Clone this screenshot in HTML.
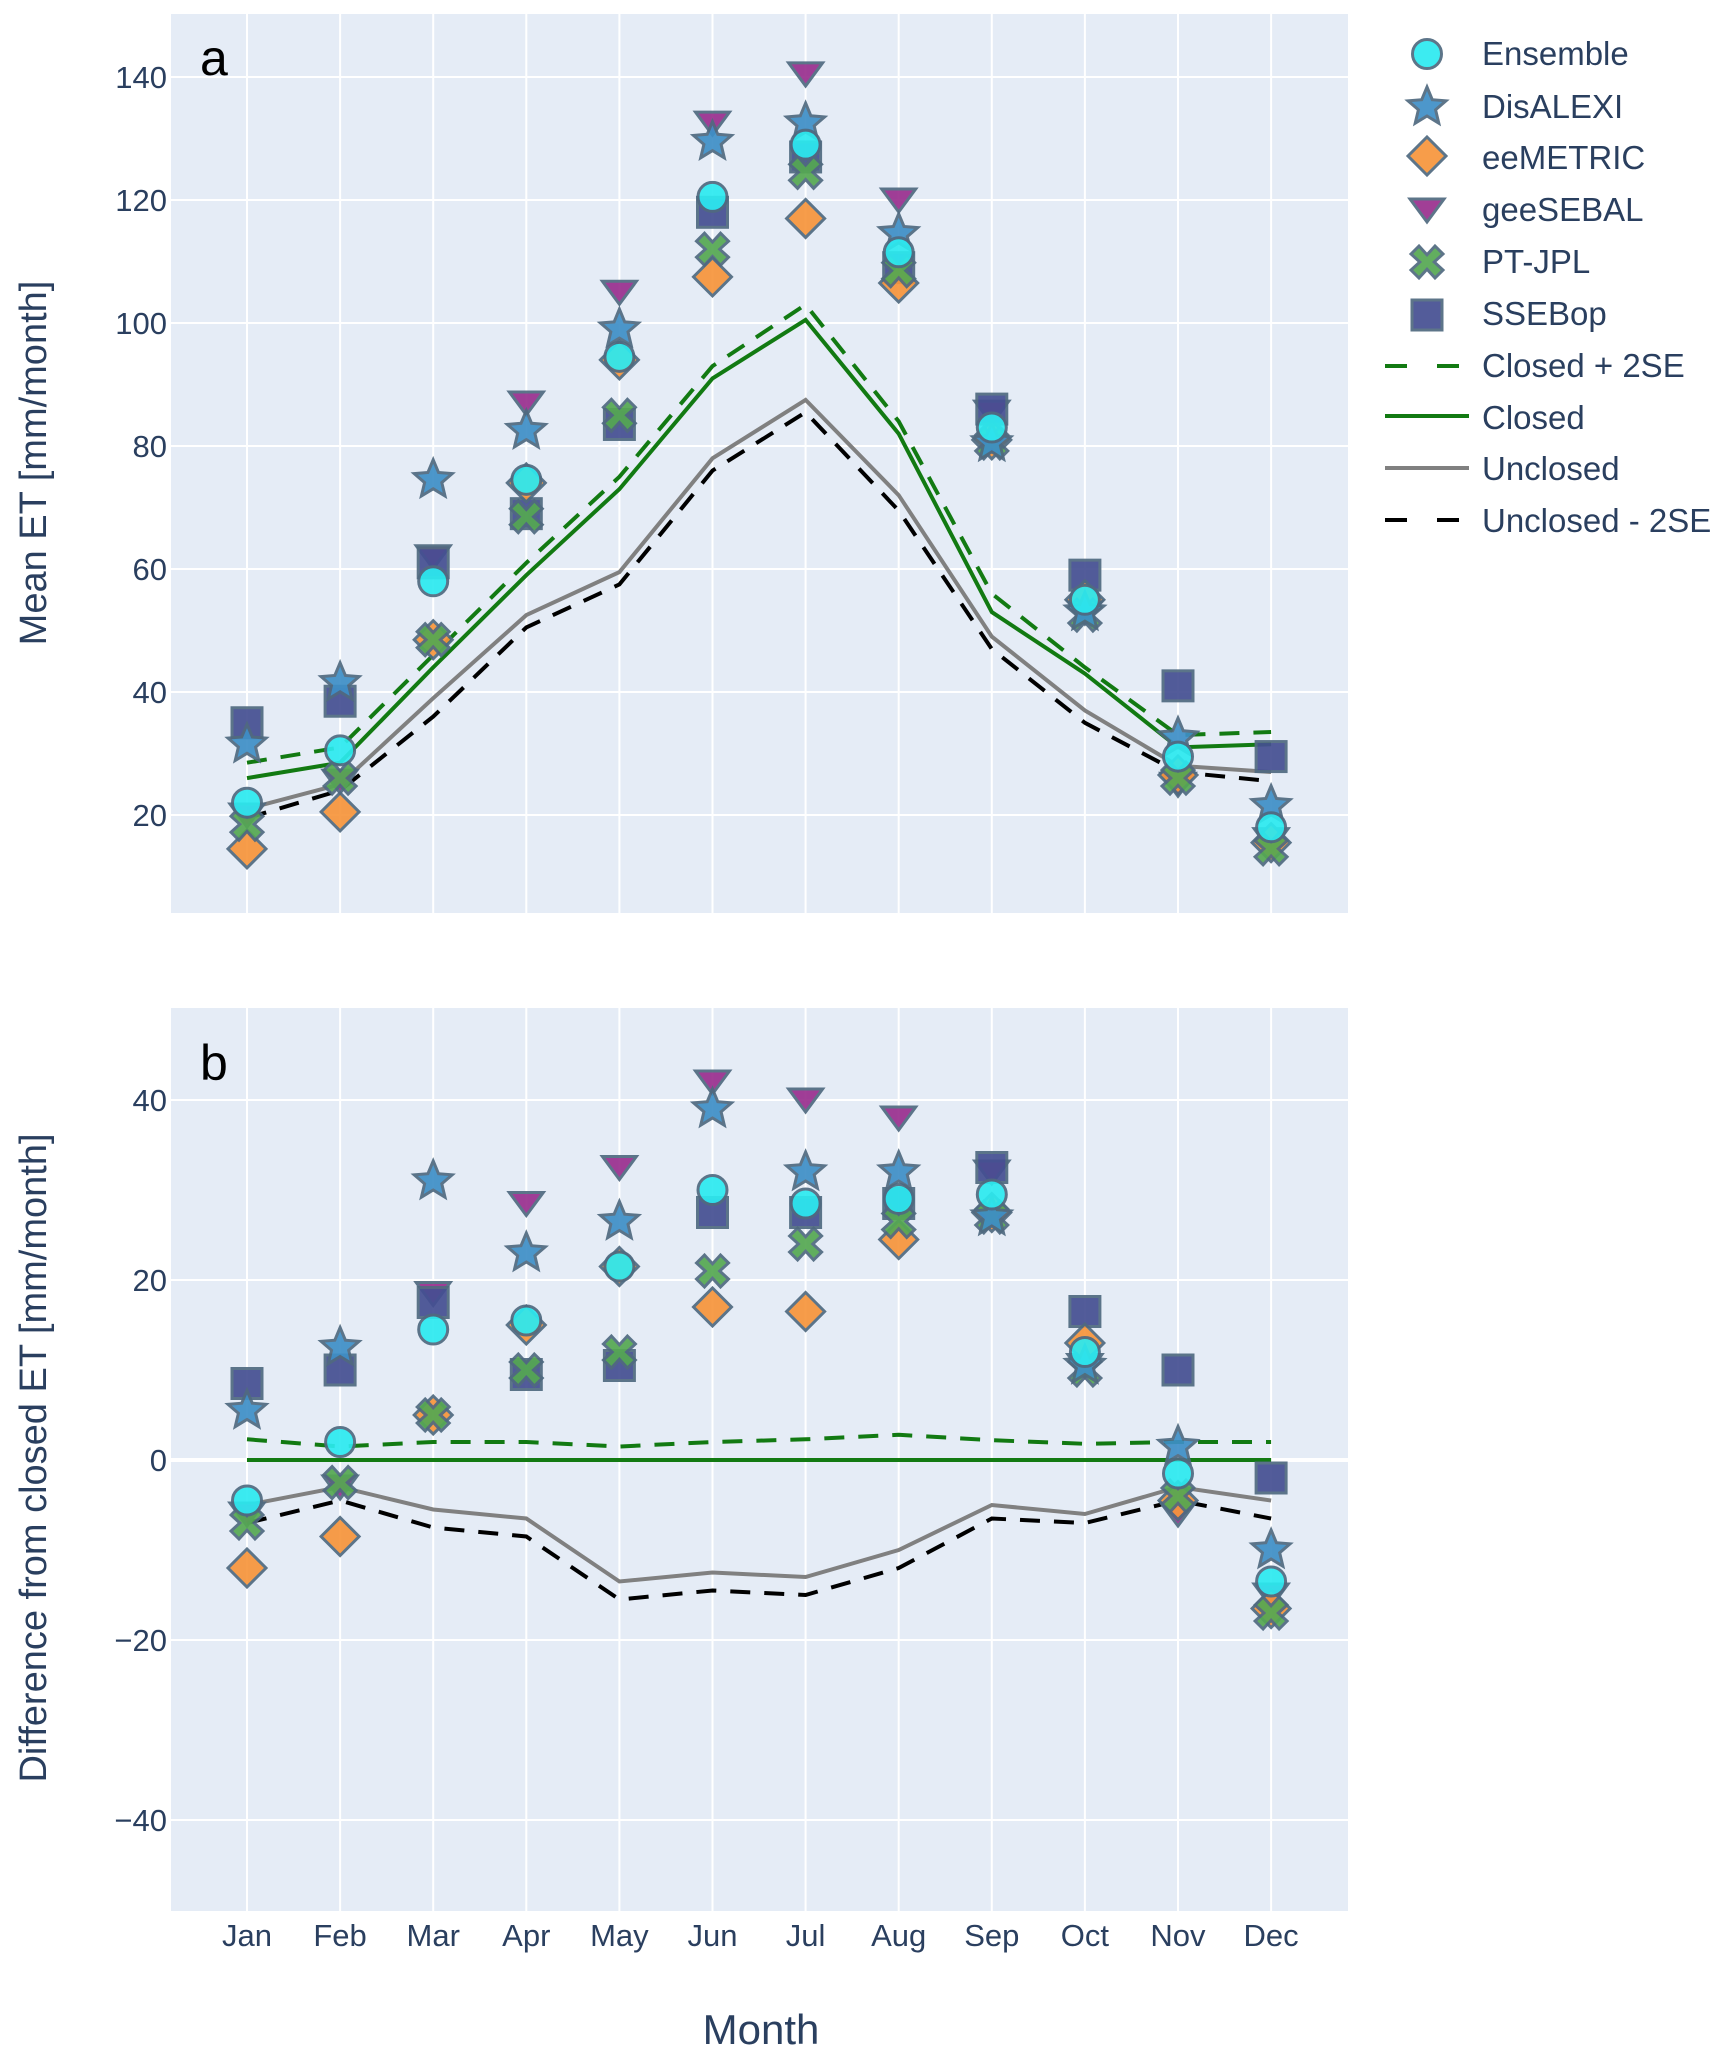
<!DOCTYPE html>
<html><head><meta charset="utf-8"><style>
html,body{margin:0;padding:0;background:#fff;}
svg{display:block;font-family:"Liberation Sans",sans-serif;}
</style></head><body>
<svg id="s" width="1720" height="2059" viewBox="0 0 1720 2059" xmlns="http://www.w3.org/2000/svg">
<rect x="171" y="14" width="1177" height="899" fill="#e5ecf6"/>
<rect x="171" y="1008" width="1177" height="903" fill="#e5ecf6"/>
<g id="grid" stroke="#fff" stroke-width="2"></g>
<g id="lines"></g>
<g id="marks"></g>
<g font-size="31" fill="#2a3f5f" text-anchor="end">
<text x="167" y="88">140</text><text x="167" y="211">120</text><text x="167" y="334">100</text>
<text x="167" y="457">80</text><text x="167" y="580">60</text><text x="167" y="703">40</text><text x="167" y="826">20</text>
<text x="167" y="1111">40</text><text x="167" y="1291">20</text><text x="167" y="1471">0</text>
<text x="167" y="1651">−20</text><text x="167" y="1831">−40</text>
</g>
<g font-size="31" fill="#2a3f5f" text-anchor="middle">
<text x="247" y="1946">Jan</text><text x="340.1" y="1946">Feb</text><text x="433.2" y="1946">Mar</text>
<text x="526.3" y="1946">Apr</text><text x="619.4" y="1946">May</text><text x="712.5" y="1946">Jun</text>
<text x="805.6" y="1946">Jul</text><text x="898.7" y="1946">Aug</text><text x="991.8" y="1946">Sep</text>
<text x="1084.9" y="1946">Oct</text><text x="1178" y="1946">Nov</text><text x="1271.1" y="1946">Dec</text>
</g>
<text x="761" y="2044" font-size="42" fill="#2a3f5f" text-anchor="middle">Month</text>
<text transform="translate(46,463) rotate(-90)" font-size="38" fill="#2a3f5f" text-anchor="middle">Mean ET [mm/month]</text>
<text transform="translate(46,1458) rotate(-90)" font-size="38" fill="#2a3f5f" text-anchor="middle">Difference from closed ET [mm/month]</text>
<text x="200" y="75" font-size="50" fill="#000">a</text>
<text x="200" y="1080" font-size="50" fill="#000">b</text>
<g font-size="33" fill="#2a3f5f">
<text x="1482" y="65">Ensemble</text><text x="1482" y="118">DisALEXI</text><text x="1482" y="169">eeMETRIC</text>
<text x="1482" y="221">geeSEBAL</text><text x="1482" y="273">PT-JPL</text><text x="1482" y="325">SSEBop</text>
<text x="1482" y="377">Closed + 2SE</text><text x="1482" y="429">Closed</text><text x="1482" y="480">Unclosed</text>
<text x="1482" y="532">Unclosed - 2SE</text>
</g>
</svg>
<script>
(function(){
var NS="http://www.w3.org/2000/svg";
function el(p,t,a){var e=document.createElementNS(NS,t);for(var k in a)e.setAttribute(k,a[k]);p.appendChild(e);return e;}
function X(i){return 247+i*93.1;}
function YT(v){return 77+(140-v)*6.15;}
function YB(v){return 1460-v*9;}
var g=document.getElementById('grid');
for(var i=0;i<12;i++){el(g,'line',{x1:X(i),x2:X(i),y1:14,y2:913});el(g,'line',{x1:X(i),x2:X(i),y1:1008,y2:1911});}
for(var v=20;v<=140;v+=20)el(g,'line',{x1:171,x2:1348,y1:YT(v),y2:YT(v)});
for(var v2=-40;v2<=40;v2+=20)el(g,'line',{x1:171,x2:1348,y1:YB(v2),y2:YB(v2),'stroke-width':v2==0?4:2});
var dTop={
ens:[22,30.5,58,74.5,94.5,120.5,129,111.5,83,55,29.5,18],
dis:[31.5,41.5,74.5,82.5,99,129.5,132.5,114.5,80.5,53,32.5,21.5],
eem:[14.5,20.5,48.5,74,94,107.5,117,106.5,81,55,26.5,15.5],
gee:[20,25.5,62,87,105,132.5,140.5,120,85.5,53,25,16],
pt:[18.5,26,48.5,68.5,85,112,124.5,108.5,80.5,52.5,26,14.5],
sse:[35,38.5,61,69,83.5,118,127,109,86,59,41,29.5],
cp:[28.5,31,46,61,75,93,103,84,56,44,33,33.5],
c:[26,28.5,44,59,73,91,100.5,82,53,43,31,31.5],
u:[21,25,39,52.5,59.5,78,87.5,72,49,37,28,27],
um:[19.5,24,36,50.5,57.5,76,85.5,69.5,47,35,27,25.5]};
var dBot={
ens:[-4.5,2,14.5,15.5,21.5,30,28.5,29,29.5,12,-1.5,-13.5],
dis:[5.5,12.5,31,23,26.5,39,32,32,27,10.5,1.5,-10],
eem:[-12,-8.5,5,15,21.5,17,16.5,24.5,27.5,13,-4.5,-16.5],
gee:[-6,-3,18.5,28.5,32.5,42,40,38,32,10.5,-6,-15],
pt:[-7,-2.5,5,10,12,21,24,26.5,27,10,-4,-17],
sse:[8.5,10,17.5,9.5,10.5,27.5,27.5,28.5,32.5,16.5,10,-2],
cp:[2.3,1.5,2,2,1.5,2,2.3,2.8,2.2,1.8,2,2],
c:[0,0,0,0,0,0,0,0,0,0,0,0],
u:[-5,-3,-5.5,-6.5,-13.5,-12.5,-13,-10,-5,-6,-3,-4.5],
um:[-7,-4.5,-7.5,-8.5,-15.5,-14.5,-15,-12,-6.5,-7,-4.5,-6.5]};
var L=document.getElementById('lines'),M=document.getElementById('marks');
var LS={u:{stroke:'#808080'},um:{stroke:'#000','stroke-dasharray':'20,14'},c:{stroke:'#127a12'},cp:{stroke:'#127a12','stroke-dasharray':'20,14'}};
function assign(a,b){var o={};for(var k in a)o[k]=a[k];for(var k2 in b)o[k2]=b[k2];return o;}
function lines(d,Y){['u','um','c','cp'].forEach(function(k){var p=d[k].map(function(v,i){return X(i).toFixed(1)+','+Y(v).toFixed(1);}).join(' ');el(L,'polyline',assign({points:p,fill:'none','stroke-width':4},LS[k]));});}
var SC='#506a80';
function star(x,y,R){var p=[];for(var i=0;i<10;i++){var r=i%2?R*0.45:R,a=-Math.PI/2+i*Math.PI/5;p.push((x+r*Math.cos(a)).toFixed(1)+','+(y+r*Math.sin(a)).toFixed(1));}return p.join(' ');}
function xs(x,y,s){var a=s*0.5,b=s;var pts=[[-b,-b+a],[-b+a,-b],[0,-a*0.9],[b-a,-b],[b,-b+a],[a*0.9,0],[b,b-a],[b-a,b],[0,a*0.9],[-b+a,b],[-b,b-a],[-a*0.9,0]];return pts.map(function(p){return (x+p[0]).toFixed(1)+','+(y+p[1]).toFixed(1);}).join(' ');}
function mark(k,x,y){var st={stroke:SC,'stroke-width':3,opacity:0.92};
if(k=='gee')el(M,'polygon',assign(st,{points:(x-17)+','+(y-11)+' '+(x+17)+','+(y-11)+' '+x+','+(y+12),fill:'#9a2f8e'}));
if(k=='sse')el(M,'rect',assign(st,{x:x-15,y:y-15,width:30,height:30,fill:'#454f92'}));
if(k=='eem')el(M,'polygon',assign(st,{points:x+','+(y-19)+' '+(x+19)+','+y+' '+x+','+(y+19)+' '+(x-19)+','+y,fill:'#f7953b'}));
if(k=='pt')el(M,'polygon',assign(st,{points:xs(x,y,16),fill:'#55a852'}));
if(k=='dis')el(M,'polygon',assign(st,{points:star(x,y,20),fill:'#3e8fc7'}));
if(k=='ens')el(M,'circle',assign(st,{cx:x,cy:y,r:14.5,fill:'#2ceaf0'}));}
function marks(d,Y){['gee','sse','eem','pt','dis','ens'].forEach(function(k){d[k].forEach(function(v,i){mark(k,X(i),Y(v));});});}
lines(dTop,YT);marks(dTop,YT);lines(dBot,YB);marks(dBot,YB);
['ens','dis','eem','gee','pt','sse'].forEach(function(k,i){mark(k,1427,[54,107,156,210,262,315][i]);});
el(M,'line',{x1:1385,x2:1460,y1:366,y2:366,stroke:'#127a12','stroke-width':4,'stroke-dasharray':'22,30'});
el(M,'line',{x1:1385,x2:1469,y1:416,y2:416,stroke:'#127a12','stroke-width':4});
el(M,'line',{x1:1385,x2:1469,y1:468,y2:468,stroke:'#808080','stroke-width':4});
el(M,'line',{x1:1385,x2:1460,y1:520,y2:520,stroke:'#000','stroke-width':4,'stroke-dasharray':'22,30'});
})();
</script>
</body></html>
